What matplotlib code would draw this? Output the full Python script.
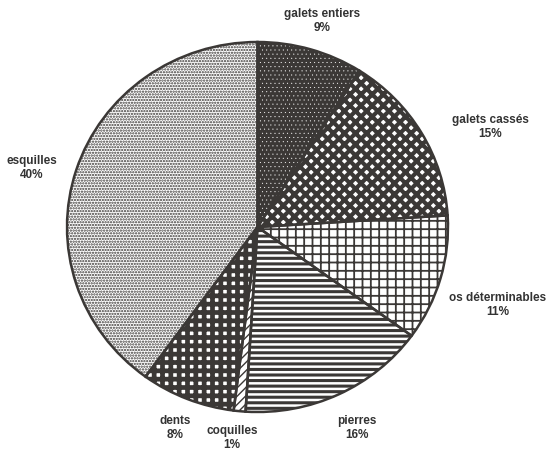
import matplotlib
matplotlib.use("Agg")
import matplotlib.pyplot as plt

categories = ["galets entiers", "galets cassés", "os déterminables", "pierres",
              "coquilles", "dents", "esquilles"]
values = [9, 15, 11, 16, 1, 8, 40]
pct_labels = ["9%", "15%", "11%", "16%", "1%", "8%", "40%"]

dark = "#3b3836"
faces = [dark, "white", "white", "white", "white", "white", "white"]
hatch_cols = ["white", dark, dark, dark, dark, dark, dark]
hatches = ["....", "xxx", "++", "---", "////", "++", "......"]
hatch_lws = [0.2, 3.0, 1.3, 2.2, 1.0, 3.4, 1.1]

# label positions in figure pixels (x from left, y from top)
label_pos = [(322, 21), (490, 127), (498, 305), (357, 428),
             (232, 438), (175, 428), (32, 168)]

W, H = 555, 454
fig = plt.figure(figsize=(W / 100, H / 100), dpi=100)
cx, cy, rx, ry = 257.5, 227, 190.5, 185
ax = fig.add_axes([(cx - rx) / W, (H - cy - ry) / H, 2 * rx / W, 2 * ry / H])

wedges, _ = ax.pie(values, startangle=90, counterclock=False, radius=1,
                   wedgeprops=dict(linewidth=0))
for w, fc, hc, h, lw in zip(wedges, faces, hatch_cols, hatches, hatch_lws):
    w.set_facecolor(fc)
    w.set_edgecolor(hc)
    w.set_hatch(h)
    try:
        w.set_hatch_linewidth(lw)
    except AttributeError:
        pass
    w.set_linewidth(0)

outline, _ = ax.pie(values, startangle=90, counterclock=False, radius=1,
                    wedgeprops=dict(linewidth=1.8, edgecolor=dark, fill=False))
ax.set_aspect("auto")
ax.set_xlim(-1, 1)
ax.set_ylim(-1, 1)
ax.axis("off")

for cat, pct, (px, py) in zip(categories, pct_labels, label_pos):
    fig.text(px / W, 1 - py / H, f"{cat}\n{pct}", ha="center", va="center",
             fontsize=8.5, family="Liberation Sans", weight="bold",
             color="#333333", linespacing=1.3)

fig.savefig("out.png", dpi=100, facecolor="white")
